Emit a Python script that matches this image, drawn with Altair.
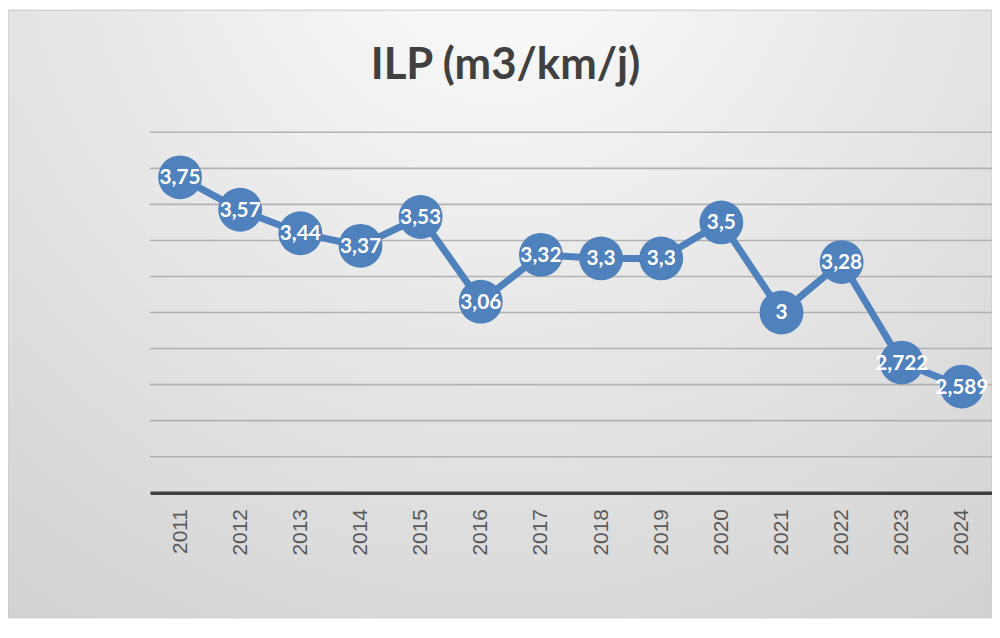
import altair as alt
import pandas as pd

title_text = "ILP (m3/km/j)"
years = ["2011", "2012", "2013", "2014", "2015", "2016", "2017",
         "2018", "2019", "2020", "2021", "2022", "2023", "2024"]
values = [3.75, 3.57, 3.44, 3.37, 3.53, 3.06, 3.32, 3.3, 3.3, 3.5, 3.0, 3.28, 2.722, 2.589]
labels = ["3,75", "3,57", "3,44", "3,37", "3,53", "3,06", "3,32", "3,3", "3,3", "3,5",
          "3", "3,28", "2,722", "2,589"]
grid_values = [2.2, 2.4, 2.6, 2.8, 3.0, 3.2, 3.4, 3.6, 3.8, 4.0]

df = pd.DataFrame({"year": years, "value": values, "label": labels})
grid_df = pd.DataFrame({"g": grid_values})

W, H = 848, 363
PL, PT, PR, PB = 143, 123, 0, 126
BLUE = "#4f81bd"

yscale = alt.Scale(domain=[2, 4], nice=False, zero=False)

bg = alt.Chart(pd.DataFrame({"a": [0]})).mark_rect(
    fill=alt.Gradient(
        gradient="radial",
        x1=0.5, y1=0.1, r1=0.0,
        x2=0.5, y2=0.1, r2=0.9,
        stops=[alt.GradientStop(color="#fdfdfd", offset=0),
               alt.GradientStop(color="#e6e6e6", offset=0.5),
               alt.GradientStop(color="#d0d0d0", offset=1)],
    ),
    stroke="#c8c8c8",
    strokeWidth=1,
).encode(
    x=alt.value(-PL),
    x2=alt.value(W + PR),
    y=alt.value(-PT),
    y2=alt.value(H + PB),
)

grid = alt.Chart(grid_df).mark_rule(color="#b2b2b2", strokeWidth=1.6).encode(
    y=alt.Y("g:Q", scale=yscale, axis=None),
    x=alt.value(0),
    x2=alt.value(W),
)

x_enc = alt.X(
    "year:O",
    sort=years,
    scale=alt.Scale(type="point", padding=0.5),
    axis=alt.Axis(
        title=None,
        labelAngle=-90,
        labelAlign="right",
        labelBaseline="middle",
        labelFont="Liberation Sans",
        labelFontSize=21,
        labelColor="#595959",
        labelPadding=16,
        ticks=False,
        domainColor="#404040",
        domainWidth=3.5,
        grid=False,
        zindex=1,
    ),
)
y_enc = alt.Y("value:Q", scale=yscale, axis=None)

base = alt.Chart(df).encode(x=x_enc, y=y_enc)

line = base.mark_line(color=BLUE, strokeWidth=7)
pts = base.mark_circle(color=BLUE, opacity=1, size=1950)
txt = base.mark_text(
    color="white", font="Lato", fontWeight="bold", fontSize=21,
    align="center", baseline="middle", dy=1,
).encode(text="label:N")

title = alt.Chart(pd.DataFrame({"t": [title_text]})).mark_text(
    font="Lato", fontSize=44, fontWeight="bold", color="#404040",
    align="center", baseline="alphabetic",
).encode(
    text="t:N",
    x=alt.value(509 - 151),
    y=alt.value(77 - 131),
)

chart = alt.layer(bg, grid, line, pts, txt, title).properties(
    width=W,
    height=H,
    padding={"left": PL, "top": PT, "right": PR, "bottom": PB},
    autosize=alt.AutoSizeParams(type="none"),
    background="white",
).configure_view(stroke=None)

chart.save("out.html", embed_options={"renderer": "svg", "actions": False})
